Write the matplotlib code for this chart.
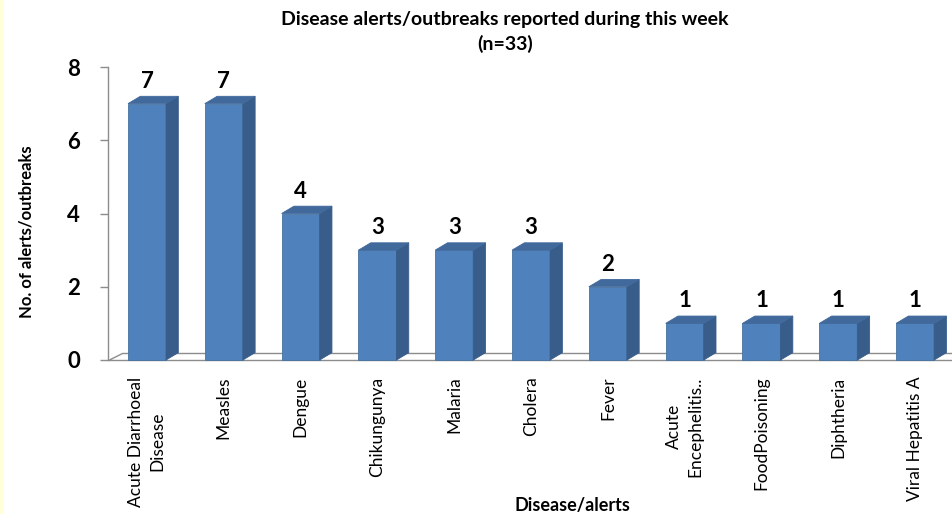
import matplotlib
matplotlib.use("Agg")
import matplotlib.pyplot as plt
from matplotlib.patches import Polygon, Rectangle

categories = [
    "Acute Diarrhoeal\nDisease", "Measles", "Dengue", "Chikungunya", "Malaria",
    "Cholera", "Fever", "Acute\nEncephelitis..", "FoodPoisoning", "Diphtheria",
    "Viral Hepatitis A",
]
counts = [7, 7, 4, 3, 3, 3, 2, 1, 1, 1, 1]
yticks = [0, 2, 4, 6, 8]

title = "Disease alerts/outbreaks reported during this week"
subtitle = "(n=33)"
xlabel = "Disease/alerts"
ylabel = "No. of alerts/outbreaks"

plt.rcParams["font.family"] = ["Lato", "DejaVu Sans"]

W, H = 952, 514
fig = plt.figure(figsize=(W / 100, H / 100), dpi=100)
fig.patch.set_facecolor("white")
fig.patches.append(Rectangle((0, 0), 4 / W, 1, transform=fig.transFigure,
                             facecolor="#FFFFD9", edgecolor="none"))

ax = fig.add_axes([108 / W, (H - 360) / H, 1 - 108 / W, 293 / H])
xmin, xmax = -0.508, 10.48
ax.set_xlim(xmin, xmax)
ax.set_ylim(0, 8)

front = "#4F81BD"
side = "#385D8A"
top = "#41699C"
grey = "#8C8C8C"

w = 0.495
dx, dy = 0.16, 0.2

# floor
ax.add_patch(Polygon([(xmin, 0), (xmax + 1, 0), (xmax + 1, dy), (xmin + 0.18, dy)],
                     closed=True, facecolor="white", edgecolor=grey, lw=1.0,
                     clip_on=False, zorder=1))

for i, v in enumerate(counts):
    l, r = i - w / 2, i + w / 2
    ax.add_patch(Rectangle((l, 0), w, v, facecolor=front, edgecolor="#46739F",
                           lw=0.6, zorder=3, clip_on=False))
    ax.add_patch(Polygon([(r, 0), (r + dx, dy), (r + dx, v + dy), (r, v)],
                         closed=True, facecolor=side, edgecolor=side, lw=0.6,
                         zorder=3, clip_on=False))
    ax.add_patch(Polygon([(l, v), (r, v), (r + dx, v + dy), (l + dx, v + dy)],
                         closed=True, facecolor=top, edgecolor=top, lw=0.6,
                         zorder=3, clip_on=False))
    ax.annotate(str(v), xy=(i, v), xytext=(0, 11.5), textcoords="offset points",
                ha="center", va="baseline", fontsize=16, fontweight="bold",
                color="black", annotation_clip=False)

for s in ["top", "right", "bottom"]:
    ax.spines[s].set_visible(False)
ax.spines["left"].set_color(grey)
ax.spines["left"].set_linewidth(1.0)

ax.set_yticks(yticks)
ax.set_yticklabels([str(t) for t in yticks], fontsize=16, fontweight="bold")
ax.tick_params(axis="y", direction="out", length=6, width=1, color=grey, pad=14)

ax.set_xticks(range(len(categories)))
ax.set_xticklabels(categories, rotation=90, va="top", ha="center",
                   multialignment="center", fontsize=12.5, linespacing=1.4)
ax.tick_params(axis="x", length=0, pad=12)

fig.text(505 / W, 1 - 19 / H, title, ha="center", va="center",
         fontsize=14, fontweight="bold")
fig.text(505 / W, 1 - 44 / H, subtitle, ha="center", va="center",
         fontsize=14, fontweight="bold")
fig.text(572 / W, 1 - 506 / H, xlabel, ha="center", va="center",
         fontsize=13, fontweight="bold")
fig.text(27 / W, 1 - 232 / H, ylabel, ha="center", va="center", rotation=90,
         fontsize=12, fontweight="bold")

fig.savefig("out.png", dpi=100)
